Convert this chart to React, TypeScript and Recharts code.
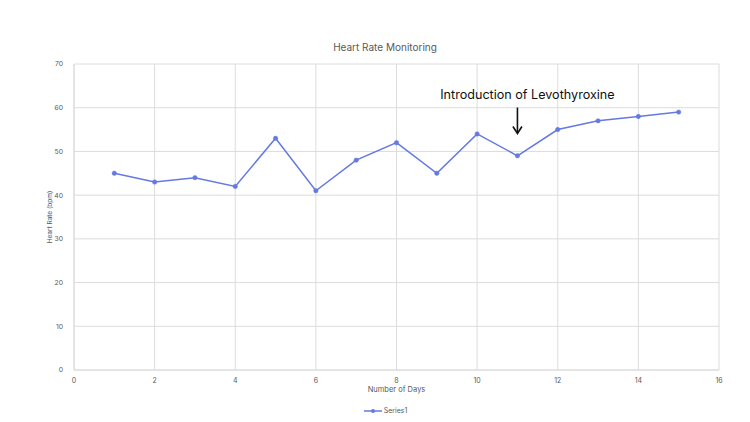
import React from 'react';
import { LineChart, Line, XAxis, YAxis, CartesianGrid, Legend, ReferenceDot } from 'recharts';

const days = [1, 2, 3, 4, 5, 6, 7, 8, 9, 10, 11, 12, 13, 14, 15];
const heartRate = [45, 43, 44, 42, 53, 41, 48, 52, 45, 54, 49, 55, 57, 58, 59];
const xTicks = [0, 2, 4, 6, 8, 10, 12, 14, 16];
const yTicks = [0, 10, 20, 30, 40, 50, 60, 70];
const annotationDay = 11;
const annotationText = 'Introduction of Levothyroxine';

const data = days.map((d, i) => ({ day: d, Series1: heartRate[i] }));

const FONT = 'Inter, "Open Sans", sans-serif';
const GREY = '#595959';
const GRID = '#dcdcdc';
const LINE = '#6479e2';

// arrow + caption drawn relative to the dot the scales place at (11, 60.5)
const AnnotationShape = (props: any) => {
  const { cx, cy } = props;
  if (cx == null || cy == null) return null;
  return (
    <g>
      <text x={cx + 10} y={cy - 7} textAnchor="middle" fontSize={12.6} fill="#111" fontFamily={FONT}>
        {annotationText}
      </text>
      <line x1={cx} y1={cy + 2} x2={cx} y2={cy + 27} stroke="#111" strokeWidth={1.6} />
      <path d={`M${cx - 4.5},${cy + 21} L${cx},${cy + 28} L${cx + 4.5},${cy + 21}`} fill="none" stroke="#111" strokeWidth={1.6} />
    </g>
  );
};

const LegendContent = () => (
  <div style={{ display: 'flex', justifyContent: 'center', alignItems: 'center', fontFamily: FONT, fontSize: 7, color: GREY, paddingLeft: 52, paddingTop: 4 }}>
    <svg width={18} height={6} style={{ marginRight: 2 }}>
      <line x1={0} y1={3} x2={18} y2={3} stroke={LINE} strokeWidth={1.5} />
      <circle cx={9} cy={3} r={2} fill={LINE} />
    </svg>
    <span>Series1</span>
  </div>
);

export default function App() {
  return (
    <div style={{ position: 'absolute', left: 0, top: 0, width: 750, height: 422, background: '#fff' }}>
      <div
        style={{
          position: 'absolute',
          top: 41,
          left: 0,
          width: 770,
          textAlign: 'center',
          fontFamily: FONT,
          fontSize: 10,
          color: GREY,
        }}
      >
        Heart Rate Monitoring
      </div>
      <LineChart width={750} height={422} data={data} margin={{ top: 64, right: 31, bottom: 0, left: 0 }}>
        <CartesianGrid stroke={GRID} strokeWidth={1} />
        <XAxis
          type="number"
          dataKey="day"
          domain={[0, 16]}
          ticks={xTicks}
          interval={0}
          height={32}
          tickLine={false}
          axisLine={{ stroke: GRID }}
          tick={{ fontSize: 7, fill: GREY, fontFamily: FONT }}
          tickMargin={2}
          label={{ value: 'Number of Days', position: 'insideBottom', offset: 10, fontSize: 7.5, fill: GREY, fontFamily: FONT }}
        />
        <YAxis
          type="number"
          domain={[0, 70]}
          ticks={yTicks}
          interval={0}
          width={74}
          tickLine={false}
          axisLine={{ stroke: GRID }}
          tick={{ fontSize: 6.8, fill: GREY, fontFamily: FONT }}
          tickMargin={5}
          label={{ value: 'Heart Rate (bpm)', angle: -90, position: 'insideLeft', offset: 50, fontSize: 6.5, fill: GREY, fontFamily: FONT, style: { textAnchor: 'middle' } }}
        />
        <Legend verticalAlign="bottom" height={20} content={<LegendContent />} />
        <Line
          type="linear"
          dataKey="Series1"
          stroke={LINE}
          strokeWidth={1.5}
          dot={{ r: 2.2, fill: LINE, stroke: LINE, strokeWidth: 0.5 }}
          isAnimationActive={false}
        />
        <ReferenceDot x={annotationDay} y={60.5} shape={<AnnotationShape />} ifOverflow="visible" />
      </LineChart>
    </div>
  );
}
